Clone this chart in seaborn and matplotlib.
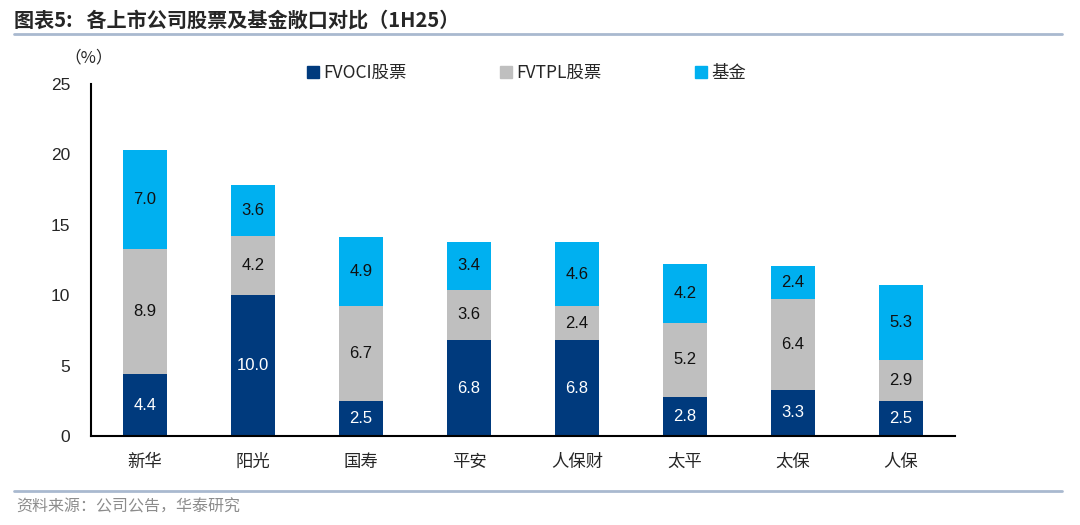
import numpy as np
import seaborn as sns
from matplotlib import pyplot as plt
from matplotlib.lines import Line2D

companies = ["新华", "阳光", "国寿", "平安", "人保财", "太平", "太保", "人保"]
fvoci = [4.4, 10.0, 2.5, 6.8, 6.8, 2.8, 3.3, 2.5]
fvtpl = [8.9, 4.2, 6.7, 3.6, 2.4, 5.2, 6.4, 2.9]
funds = [7.0, 3.6, 4.9, 3.4, 4.6, 4.2, 2.4, 5.3]
series_names = ["FVOCI股票", "FVTPL股票", "基金"]
colors = ["#003A7D", "#BFBFBF", "#00B0F0"]

sns.set_style("white")
plt.rcParams["font.family"] = ["Noto Sans CJK SC", "DejaVu Sans"]

fig = plt.figure(figsize=(10.8, 5.25), dpi=100)
ax = fig.add_axes([0.0843, 0.1695, 0.8, 0.6705])

lvl1 = np.array(fvoci)
lvl2 = lvl1 + np.array(fvtpl)
lvl3 = lvl2 + np.array(funds)

# classic stacked look: draw the tallest first, then overlay
for tops, col in zip([lvl3, lvl2, lvl1], colors[::-1]):
    sns.barplot(x=companies, y=tops, color=col, width=0.41, saturation=1,
                edgecolor="none", linewidth=0, ax=ax)

# value labels
bottoms = [np.zeros(len(companies)), lvl1, lvl2]
for vals, bots, tc in zip([fvoci, fvtpl, funds], bottoms, ["white", "#111111", "#111111"]):
    for i, (v, b) in enumerate(zip(vals, bots)):
        ax.text(i, b + v / 2, f"{v:.1f}", ha="center", va="center",
                fontsize=12, color=tc, family=["Liberation Sans", "DejaVu Sans"])

ax.set_xlim(-0.5, 7.5)
ax.set_ylim(0, 25)
ax.set_yticks([0, 5, 10, 15, 20, 25])
ax.set_xticks(range(len(companies)))
ax.set_xticklabels(companies, fontsize=12.5)
ax.set_xticks(np.arange(-0.5, 8, 1), minor=True)
ax.tick_params(axis="x", which="major", length=0, pad=12)
ax.tick_params(axis="x", which="minor", length=5, width=1.2, direction="out", color="black")
ax.tick_params(axis="y", length=5, width=1.2, direction="out", color="black",
               labelsize=12.5, pad=10)
for lbl in ax.get_yticklabels():
    lbl.set_family(["Liberation Sans", "DejaVu Sans"])
ax.set_xlabel("")
ax.set_ylabel("")
sns.despine(ax=ax)
ax.spines["left"].set_linewidth(1.5)
ax.spines["bottom"].set_linewidth(1.5)
ax.spines["left"].set_color("black")
ax.spines["bottom"].set_color("black")

fig.text(0.06, 0.889, "（%）", fontsize=12, ha="left", va="center")

handles = [Line2D([], [], marker="s", linestyle="none", markersize=8,
                  markerfacecolor=c, markeredgecolor=c) for c in colors]
fig.legend(handles, series_names, loc="center", bbox_to_anchor=(0.487, 0.861),
           ncol=3, frameon=False, fontsize=12.5, handletextpad=0.2,
           columnspacing=5.3, handlelength=0.8)

fig.text(0.013, 0.962, "图表5:   各上市公司股票及基金敞口对比（1H25）", fontsize=14.5,
         fontweight="bold", ha="left", va="center")
fig.add_artist(Line2D([0.013, 0.983], [0.935, 0.935], color="#A9B9CF", linewidth=2))
fig.add_artist(Line2D([0.013, 0.983], [0.065, 0.065], color="#A9B9CF", linewidth=2))
fig.text(0.015, 0.034, "资料来源：公司公告，华泰研究", fontsize=11.5, color="#8C8C8C",
         ha="left", va="center")

fig.savefig("out.png", dpi=100)
